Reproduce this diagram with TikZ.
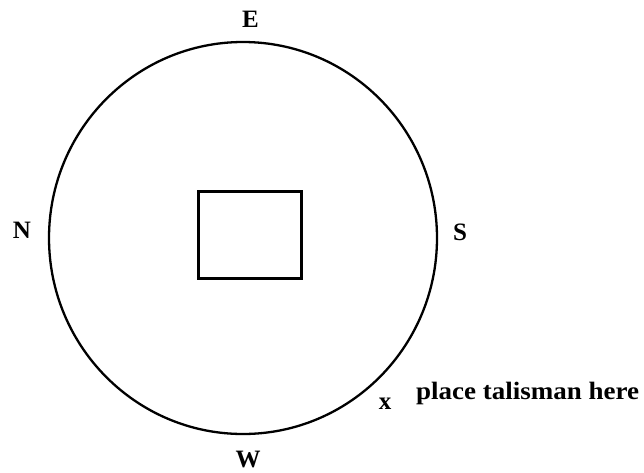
\documentclass[tikz,border=0pt]{standalone}
\usepackage{fontspec}
\setmainfont{Liberation Serif}
\newfontfamily\widefont[FakeStretch=1.08]{Liberation Serif}
\begin{document}
\begin{tikzpicture}[x=1pt,y=-1pt,
  lbl/.style={font=\fontsize{25}{27}\selectfont\bfseries, inner sep=0pt}]
\useasboundingbox (0,0) rectangle (644,472);
\draw[line width=2.3pt] (243,238) ellipse [x radius=194, y radius=196];
\node[draw, line width=3pt, minimum width=103pt, minimum height=87pt, inner sep=0pt] (box) at (249.5,234.5) {};
\node[lbl] (E) at (250.5,19.5) {E};
\node[lbl] (N) at (22,230) {N};
\node[lbl] (S) at (460,232) {S};
\node[lbl] (W) at (248,459) {W};
\node[lbl, anchor=base] (x) at (385,409) {x};
\node[lbl, font=\fontsize{25}{27}\widefont\bfseries, anchor=base west] (t) at (416,399) {place talisman here};
\end{tikzpicture}
\end{document}
